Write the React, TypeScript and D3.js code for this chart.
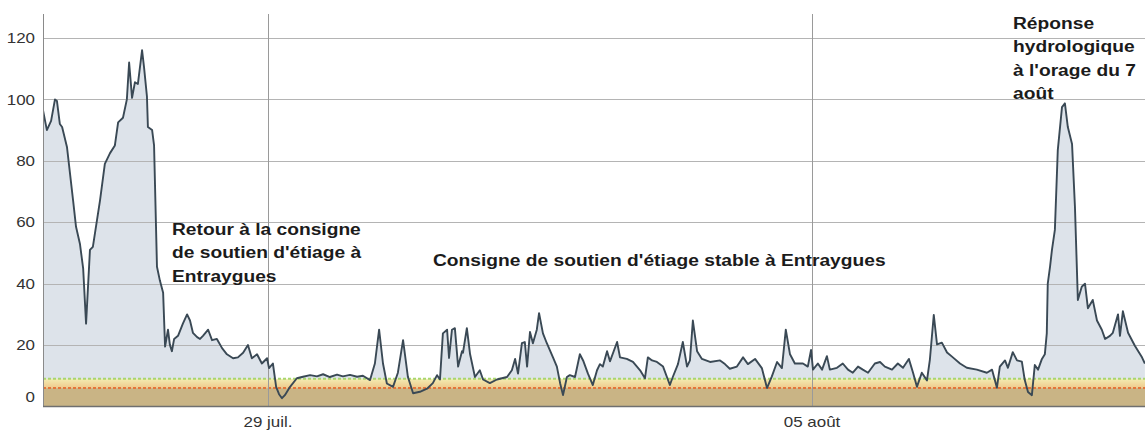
import React, { useRef, useEffect } from "react";
import * as d3 from "d3";

const width = 1145;
const height = 432;
const left = 43;
const top = 14;
const bottom = 406.5;

// heures depuis le 26 juil. 00:00 (UTC) et débits relevés (m3/s)
const heures = [
  2.5, 3.7, 5.0, 6.2, 6.8, 7.7, 8.4, 9.9, 11.8, 12.7,
  13.9, 14.9, 15.8, 17.0, 17.9, 20.1, 21.6, 23.2, 24.7, 25.7,
  27.2, 28.4, 29.1, 30.0, 30.9, 31.8, 33.1, 33.7, 34.6, 34.9,
  36.2, 36.8, 37.7, 38.6, 39.6, 40.2, 41.1, 41.7, 42.3, 43.0,
  44.2, 45.7, 47.0, 47.9, 48.8, 50.1, 51.0, 51.9, 53.5, 54.7,
  56.2, 57.8, 59.3, 61.2, 62.7, 64.3, 65.8, 67.0, 68.6, 70.1,
  71.7, 72.3, 73.5, 74.5, 75.4, 76.3, 77.2, 78.8, 80.9, 82.8,
  85.0, 87.1, 89.0, 91.1, 93.3, 95.1, 97.3, 99.5, 101.3, 103.5,
  105.0, 106.3, 107.5, 108.7, 110.6, 112.1, 113.7, 115.2, 116.8, 118.9,
  121.1, 122.9, 124.2, 125.1, 126.0, 127.3, 127.9, 128.8, 129.7, 130.7,
  131.9, 132.2, 133.4, 134.4, 135.9, 137.4, 138.4, 140.5, 142.7, 145.8,
  147.3, 148.3, 149.2, 150.4, 151.3, 152.0, 152.9, 153.8, 155.0, 155.7,
  156.9, 158.1, 160.0, 161.2, 162.2, 163.1, 164.3, 165.2, 166.8, 168.3,
  169.3, 170.8, 172.3, 173.6, 174.5, 175.4, 176.7, 177.6, 179.8, 180.7,
  182.8, 184.7, 186.9, 188.4, 189.3, 190.6, 192.1, 194.0, 196.1, 197.0,
  198.6, 200.1, 201.4, 202.3, 203.2, 204.5, 206.0, 208.5, 211.6, 213.1,
  214.6, 216.8, 218.7, 220.2, 222.4, 224.5, 226.1, 227.6, 229.2, 230.7,
  231.9, 233.2, 234.7, 237.2, 238.7, 239.7, 240.3, 241.8, 243.1, 244.6,
  245.5, 247.7, 249.5, 251.1, 252.6, 254.2, 255.7, 257.3, 259.4, 261.0,
  262.5, 264.7, 266.5, 268.1, 269.9, 271.2, 272.4, 273.9, 275.5, 276.4,
  277.6, 278.6, 280.1, 281.7, 283.5, 285.7, 287.8, 290.9, 294.0, 295.6,
  297.1, 298.0, 299.6, 300.5, 302.0, 303.3, 304.8, 305.7, 306.7, 307.9,
  308.8, 309.8, 311.0, 311.9, 312.5, 312.8, 313.5, 314.1, 315.0, 315.9,
  317.2, 318.1, 319.0, 320.3, 321.2, 322.1, 323.3, 324.3, 325.2, 326.7,
  328.0, 329.5, 330.5, 332.0, 332.9, 334.5, 335.1, 336.0, 337.6, 339.7,
  341.9, 342.8,
];

const debits = [
  96.5, 90, 93, 100, 99.5, 92, 91, 84.5, 67, 58.5,
  53, 45, 27, 51, 52, 67, 79, 82.5, 85, 92.5,
  94, 100, 112, 100.5, 105.6, 105, 116, 110.5, 101, 91,
  90, 85, 45.5, 41, 37, 19.5, 25, 20, 18, 22,
  23, 27, 30, 28, 24, 22.6, 22, 23, 25, 21.6,
  22, 19, 17, 15.7, 16, 17.5, 20, 15.7, 17, 14,
  15.7, 12.5, 14, 6.4, 4, 2.7, 3.7, 6.4, 9.2, 9.7,
  10.2, 9.8, 10.5, 9.6, 10.4, 9.8, 10.3, 9.7, 10, 8.6,
  14, 25, 14, 7.5, 6.4, 11, 21.6, 9.6, 4.3, 4.8,
  5.8, 7.6, 10.2, 8.8, 23.8, 25, 15.8, 25, 25.5, 13,
  18, 17.5, 25.5, 17, 9.6, 11.8, 8.8, 7.6, 8.8, 9.6,
  11.8, 15.5, 10.7, 20.6, 21, 13, 24.3, 20.6, 25, 30.4,
  23.8, 20.6, 16, 13, 7.6, 3.7, 9.6, 10.2, 9.6, 17,
  15, 10.7, 7, 11.8, 13.8, 13, 18, 14.7, 21, 16,
  15.5, 14.5, 11.8, 9.2, 16, 15, 14.5, 13, 7, 9.6,
  13.8, 21, 13, 15, 28, 18, 15.5, 14.5, 15, 13.8,
  12.3, 13, 16, 13.8, 15.5, 12.5, 6, 9.8, 14.5, 12.5,
  25, 17, 14, 14, 13, 18.4, 12, 14, 12, 16.4,
  12, 12.6, 14, 12, 11, 13, 12, 11, 14, 14.5,
  13, 12, 14, 12.6, 15.5, 11, 6.4, 11, 8.5, 15.3,
  29.8, 20.2, 20.8, 17.6, 16, 14, 12.6, 12, 11, 12,
  6.1, 13, 15, 12.6, 17.7, 15, 14.6, 8.6, 4.7, 3.7,
  13.5, 12, 15.5, 17, 23.8, 40, 45.5, 51, 57.5, 83.5,
  97.5, 98.7, 91, 85.5, 65, 34.7, 39, 40, 32, 34.7,
  28, 25, 22, 23, 24, 30, 23, 31, 24, 19.8,
  16, 14,
];

const yTicks = [0, 20, 40, 60, 80, 100, 120];
const yMax = 127.8;
const seuilRouge = 6;
const seuilVert = 9;

const annotationGauche = ["Retour à la consigne", "de soutien d'étiage à", "Entraygues"];
const annotationCentre = ["Consigne de soutien d'étiage stable à Entraygues"];
const annotationDroite = ["Réponse", "hydrologique", "à l'orage du 7", "août"];

const fr = d3.timeFormatLocale({
  dateTime: "%A %e %B %Y à %X",
  date: "%d/%m/%Y",
  time: "%H:%M:%S",
  periods: ["AM", "PM"],
  days: ["dimanche", "lundi", "mardi", "mercredi", "jeudi", "vendredi", "samedi"],
  shortDays: ["dim.", "lun.", "mar.", "mer.", "jeu.", "ven.", "sam."],
  months: ["janvier", "février", "mars", "avril", "mai", "juin", "juillet", "août", "septembre", "octobre", "novembre", "décembre"],
  shortMonths: ["janv.", "févr.", "mars", "avr.", "mai", "juin", "juil.", "août", "sept.", "oct.", "nov.", "déc."],
});

const origine = Date.UTC(2019, 6, 26);
const stretch = 1.13;

export default function App() {
  const svgRef = useRef<SVGSVGElement>(null);

  useEffect(() => {
    if (!svgRef.current) return;
    const svg = d3.select(svgRef.current);
    svg.selectAll("*").remove();

    const data = heures.map((h, i) => ({ t: new Date(origine + h * 3600000), v: debits[i] }));

    const x = d3.scaleUtc()
      .domain([new Date(Date.UTC(2019, 6, 26, 2, 30)), new Date(Date.UTC(2019, 7, 9, 6, 50))])
      .range([left, width]);
    const y = d3.scaleLinear().domain([0, yMax]).range([bottom, top]);

    const defs = svg.append("defs");
    const clip = defs.append("clipPath").attr("id", "plot");
    clip.append("rect").attr("x", left).attr("y", top).attr("width", width - left).attr("height", bottom - top);
    const grad = defs.append("linearGradient").attr("id", "jaune").attr("x1", 0).attr("x2", 0).attr("y1", 0).attr("y2", 1);
    grad.append("stop").attr("offset", "0%").attr("stop-color", "#f3ecb2");
    grad.append("stop").attr("offset", "100%").attr("stop-color", "#efc98c");

    const plot = svg.append("g").attr("clip-path", "url(#plot)");

    // aire sous la courbe
    const area = d3.area<any>().x(d => x(d.t)).y0(y(0)).y1(d => y(d.v));
    plot.append("path").datum(data).attr("d", area).attr("fill", "#dde3ea");

    // bandes de seuils
    plot.append("rect")
      .attr("x", left).attr("width", width - left)
      .attr("y", y(seuilRouge)).attr("height", y(0) - y(seuilRouge))
      .attr("fill", "#c9b485");
    plot.append("rect")
      .attr("x", left).attr("width", width - left)
      .attr("y", y(seuilVert)).attr("height", y(seuilRouge) - y(seuilVert))
      .attr("fill", "url(#jaune)");
    plot.append("line")
      .attr("x1", left).attr("x2", width)
      .attr("y1", y(seuilVert)).attr("y2", y(seuilVert))
      .attr("stroke", "#a9d66e").attr("stroke-width", 2).attr("stroke-dasharray", "3,2");
    plot.append("line")
      .attr("x1", left).attr("x2", width)
      .attr("y1", y(seuilRouge)).attr("y2", y(seuilRouge))
      .attr("stroke", "#e3763a").attr("stroke-width", 2).attr("stroke-dasharray", "3,2");

    // grille
    svg.append("g").selectAll("line")
      .data(yTicks.filter(d => d > 0))
      .join("line")
      .attr("x1", left).attr("x2", width)
      .attr("y1", d => Math.round(y(d)) + 0.5).attr("y2", d => Math.round(y(d)) + 0.5)
      .attr("stroke", "#b4b4b4");

    const xTicks = x.ticks(d3.utcMonday.every(1) as any);
    svg.append("g").selectAll("line")
      .data(xTicks)
      .join("line")
      .attr("x1", d => Math.round(x(d)) + 0.5).attr("x2", d => Math.round(x(d)) + 0.5)
      .attr("y1", top).attr("y2", bottom)
      .attr("stroke", "#9a9a9a");

    // courbe
    const line = d3.line<any>().x(d => x(d.t)).y(d => y(d.v));
    svg.append("path").datum(data)
      .attr("clip-path", "url(#plot)")
      .attr("d", line)
      .attr("fill", "none")
      .attr("stroke", "#3a4955")
      .attr("stroke-width", 1.9)
      .attr("stroke-linejoin", "round");

    // axes
    svg.append("line").attr("x1", left + 0.5).attr("x2", left + 0.5).attr("y1", top).attr("y2", bottom)
      .attr("stroke", "#8a8a8a");
    svg.append("line").attr("x1", left).attr("x2", width).attr("y1", bottom).attr("y2", bottom)
      .attr("stroke", "#6f6f6f").attr("stroke-width", 1.5);

    const font = "'Liberation Sans', Arial, sans-serif";

    svg.append("g").selectAll("text")
      .data(yTicks)
      .join("text")
      .attr("transform", d => `translate(35,${d === 0 ? 397 : y(d)}) scale(${stretch},1)`)
      .attr("dy", "0.35em")
      .attr("text-anchor", "end")
      .attr("font-family", font)
      .attr("font-size", 15)
      .attr("fill", "#333")
      .text(d => d);

    const fmt = fr.utcFormat("%d %b");
    svg.append("g").selectAll("text")
      .data(xTicks)
      .join("text")
      .attr("transform", d => `translate(${x(d)},427) scale(${stretch},1)`)
      .attr("text-anchor", "middle")
      .attr("font-family", font)
      .attr("font-size", 15)
      .attr("fill", "#333")
      .text(d => fmt(d));

    // annotations
    const annot = (lines: string[], ax: number, ay: number) => {
      svg.append("g").selectAll("text")
        .data(lines)
        .join("text")
        .attr("transform", (d, i) => `translate(${ax},${ay + i * 23.4}) scale(${stretch},1)`)
        .attr("font-family", font)
        .attr("font-size", 17)
        .attr("font-weight", "bold")
        .attr("fill", "#1b1b1b")
        .text(d => d);
    };
    annot(annotationGauche, 172, 235);
    annot(annotationCentre, 433, 265.5);
    annot(annotationDroite, 1013, 29);
  }, []);

  return (
    <svg ref={svgRef} width={width} height={height}
      style={{ position: "absolute", left: 0, top: 0, background: "#fff" }} />
  );
}
